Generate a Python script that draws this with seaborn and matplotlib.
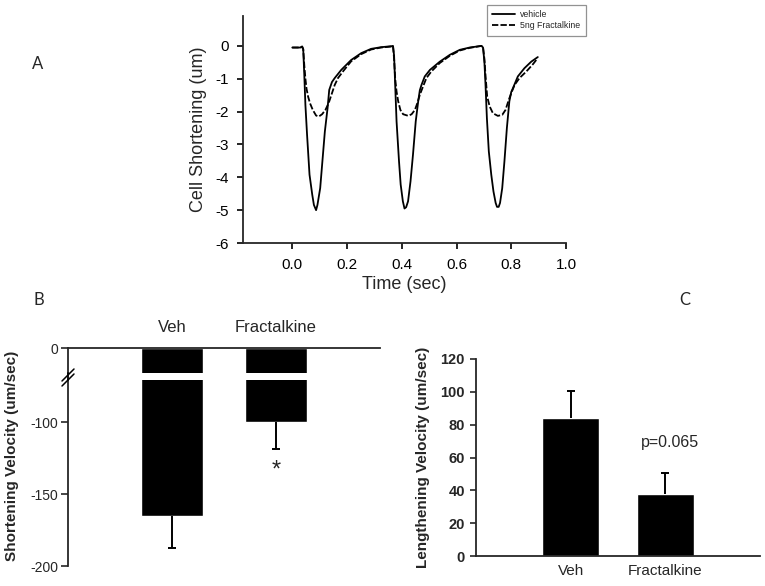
import numpy as np
import pandas as pd
import matplotlib
matplotlib.use('Agg')
import matplotlib.pyplot as plt
from matplotlib.lines import Line2D
import seaborn as sns

# Panel A - cell shortening traces (time in sec, shortening in um)
vehicle_time = [0.000, 0.030, 0.036, 0.040, 0.044, 0.048, 0.054, 0.063, 0.073, 0.079,
                0.087, 0.092, 0.102, 0.110, 0.119, 0.129, 0.135, 0.145, 0.155, 0.179,
                0.215, 0.252, 0.288, 0.324, 0.361,
                0.368, 0.372, 0.376, 0.381, 0.390, 0.396, 0.404, 0.410, 0.416, 0.423,
                0.432, 0.441, 0.451, 0.460, 0.466, 0.472, 0.484, 0.503, 0.539, 0.576,
                0.612, 0.648, 0.691,
                0.697, 0.702, 0.706, 0.711, 0.718, 0.727, 0.735, 0.743, 0.748, 0.754,
                0.759, 0.767, 0.775, 0.784, 0.793, 0.800, 0.806, 0.824, 0.848, 0.873,
                0.897]
vehicle_short = [-0.05, -0.05, -0.02, -0.10, -0.90, -1.80, -2.70, -3.92, -4.53, -4.84,
                 -5.00, -4.84, -4.33, -3.52, -2.61, -1.89, -1.34, -1.10, -0.98, -0.73,
                 -0.43, -0.22, -0.09, -0.04, -0.01,
                 0.00, -0.30, -1.20, -2.30, -3.52, -4.22, -4.73, -4.95, -4.91, -4.73,
                 -4.12, -3.31, -2.30, -1.69, -1.35, -1.19, -0.93, -0.73, -0.48, -0.27,
                 -0.12, -0.05, 0.00,
                 -0.05, -0.50, -1.19, -2.20, -3.21, -3.92, -4.43, -4.78, -4.90, -4.90,
                 -4.78, -4.33, -3.52, -2.50, -1.69, -1.40, -1.29, -0.93, -0.68, -0.48,
                 -0.34]

fkn_time = [0.000, 0.030, 0.036, 0.040, 0.044, 0.048, 0.052, 0.058, 0.065, 0.075,
            0.087, 0.097, 0.109, 0.121, 0.133, 0.145, 0.155, 0.167, 0.185, 0.215,
            0.252, 0.288, 0.324, 0.361,
            0.368, 0.372, 0.376, 0.381, 0.387, 0.395, 0.405, 0.424, 0.436, 0.448,
            0.457, 0.466, 0.478, 0.490, 0.508, 0.539, 0.576, 0.612, 0.648, 0.691,
            0.697, 0.702, 0.706, 0.712, 0.721, 0.733, 0.751, 0.767, 0.779, 0.791,
            0.800, 0.812, 0.830, 0.855, 0.879, 0.894]
fkn_short = [-0.05, -0.05, -0.02, -0.10, -0.60, -1.00, -1.30, -1.55, -1.75, -1.95,
             -2.12, -2.15, -2.08, -1.95, -1.74, -1.44, -1.19, -0.98, -0.78, -0.47,
             -0.25, -0.11, -0.05, -0.02,
             0.00, -0.40, -1.00, -1.39, -1.69, -1.95, -2.08, -2.13, -2.08, -1.95,
             -1.74, -1.49, -1.23, -0.98, -0.78, -0.52, -0.30, -0.14, -0.06, 0.00,
             -0.05, -0.40, -0.90, -1.54, -1.84, -2.05, -2.13, -2.10, -1.95, -1.64,
             -1.44, -1.19, -0.98, -0.78, -0.56, -0.40]

trace_labels = ['vehicle', '5ng Fractalkine']
time_ticks = [0.0, 0.2, 0.4, 0.6, 0.8, 1.0]
short_ticks = [0, -1, -2, -3, -4, -5, -6]

# Panels B and C - mean and SEM
groups = ['Veh', 'Fractalkine']
shortening_vel = [-165, -100]
shortening_sem = [22.5, 19]
lengthening_vel = [84, 38]
lengthening_sem = [16.5, 12.5]
p_text = 'p=0.065'

W, H = 765, 586


def px(x, y):
    # pixel position -> figure fraction
    return x / W, 1 - y / H


def box(l, t, r, b):
    return [l / W, 1 - b / H, (r - l) / W, (b - t) / H]


def one_sided_err(ax, y, err, down):
    # error bar on one side only, cap only at the far end
    yerr = [err, [0] * len(err)] if down else [[0] * len(err), err]
    _, caps, _ = ax.errorbar(x=range(len(y)), y=y, yerr=yerr, fmt='none',
                             ecolor='black', elinewidth=1.4, capsize=3,
                             capthick=1.4)
    # caps = (lower, upper); hide the one sitting on the bar end
    caps[1 if down else 0].set_visible(False)


sns.set_style('ticks')
plt.rcParams['font.family'] = ['Liberation Sans', 'DejaVu Sans']
plt.rcParams['axes.linewidth'] = 1.3
plt.rcParams['axes.unicode_minus'] = False

fig = plt.figure(figsize=(W / 100, H / 100), dpi=100)

# ---- Panel A ----
axA = fig.add_axes(box(243, 16, 566, 243))
df_a = pd.concat([
    pd.DataFrame({'time': vehicle_time, 'short': vehicle_short, 'group': trace_labels[0]}),
    pd.DataFrame({'time': fkn_time, 'short': fkn_short, 'group': trace_labels[1]}),
])
sns.lineplot(data=df_a, x='time', y='short', style='group', color='black',
             dashes={trace_labels[0]: '', trace_labels[1]: (3.5, 1.2)},
             estimator=None, sort=False, linewidth=1.3, ax=axA)
axA.set_xlim(-0.18, 1.0)
axA.set_ylim(-6, 0.91)
axA.set_xticks(time_ticks)
axA.set_xticklabels([f'{t:.1f}' for t in time_ticks])
axA.set_yticks(short_ticks)
axA.tick_params(axis='both', labelsize=11, length=4, width=1.2, colors='black')
axA.tick_params(axis='x', pad=7)
axA.tick_params(axis='y', pad=6)
axA.set_xlabel('Time (sec)', fontsize=13, labelpad=3)
axA.set_ylabel('Cell Shortening (um)', fontsize=13)
axA.yaxis.set_label_coords(-0.11, 0.5)
sns.despine(ax=axA)
handles, labels = axA.get_legend_handles_labels()
leg = axA.legend(handles, labels, loc='upper left', bbox_to_anchor=px(487, 5),
                 bbox_transform=fig.transFigure, fontsize=6.3, frameon=True,
                 fancybox=False, edgecolor='#777777', handlelength=2.6,
                 handletextpad=0.6, labelspacing=0.25, borderpad=0.6,
                 borderaxespad=0)
leg.get_frame().set_linewidth(0.9)
for ln in leg.get_lines():
    ln.set_linewidth(1.3)

# ---- Panel B (broken axis) ----
axBt = fig.add_axes(box(68, 348, 380, 373))
axBb = fig.add_axes(box(68, 380, 380, 566))
for ax in (axBt, axBb):
    sns.barplot(x=groups, y=shortening_vel, color='black', saturation=1,
                width=0.6, ax=ax)
    ax.set_xlim(-1, 2)
    ax.set_xlabel('')
    ax.set_ylabel('')
axBt.set_ylim(-17.4, 0)
axBb.set_ylim(-200, -70.8)
one_sided_err(axBb, shortening_vel, shortening_sem, down=True)

for s in ('bottom', 'right'):
    axBt.spines[s].set_visible(False)
for s in ('top', 'right', 'bottom'):
    axBb.spines[s].set_visible(False)
axBt.xaxis.tick_top()
axBt.tick_params(axis='x', length=0, pad=9, labelsize=12)
axBt.set_yticks([0])
axBt.tick_params(axis='y', length=5, width=1.2, pad=2, labelsize=10)
axBb.set_xticks([])
axBb.set_yticks([-100, -150, -200])
axBb.tick_params(axis='y', length=5, width=1.2, pad=2, labelsize=10)
axBb.text(1, -134, '*', ha='center', va='center', fontsize=17)

# spine across the break, plus the // marks
fig.add_artist(Line2D([68 / W, 68 / W], [1 - 373 / H, 1 - 380 / H],
                      color='black', lw=1.3))
for dy in (0, 5):
    (x0, y0), (x1, y1) = px(62, 381 + dy), px(74, 369 + dy)
    fig.add_artist(Line2D([x0, x1], [y0, y1], color='black', lw=1.1))

fig.text(*px(12, 456), 'Shortening Velocity (um/sec)', rotation=90,
         ha='center', va='center', fontsize=11, fontweight='bold')

# ---- Panel C ----
axC = fig.add_axes(box(476, 359, 760, 556))
sns.barplot(x=groups, y=lengthening_vel, color='black', saturation=1,
            width=0.6, ax=axC)
one_sided_err(axC, lengthening_vel, lengthening_sem, down=False)
axC.set_xlim(-1, 2)
axC.set_ylim(0, 120)
axC.set_yticks(np.arange(0, 121, 20))
axC.set_xlabel('')
axC.set_ylabel('Lengthening Velocity (um/sec)', fontsize=11, fontweight='bold')
axC.yaxis.set_label_coords(-0.162, 0.5)
axC.tick_params(axis='x', length=0, pad=6, labelsize=11)
axC.tick_params(axis='y', length=4, width=1.2, pad=4, labelsize=10.5)
for lab in axC.get_yticklabels():
    lab.set_fontweight('bold')
sns.despine(ax=axC)
axC.text(1.05, 69, p_text, ha='center', va='center', fontsize=11.5)

# panel letters
for letter, (x, y) in zip('ABC', [(38, 64), (39, 300), (685, 300)]):
    fig.text(*px(x, y), letter, ha='center', va='center', fontsize=12,
             family=['Lato', 'DejaVu Sans'])

fig.savefig('out.png', dpi=100)
